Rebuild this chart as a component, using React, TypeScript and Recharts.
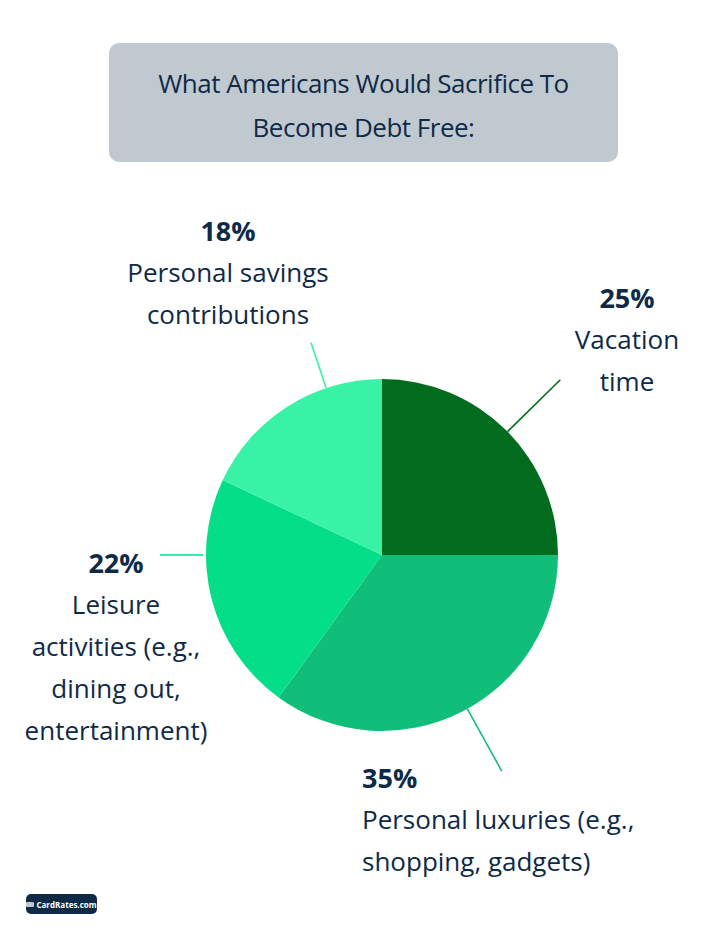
import React from "react";
import { PieChart, Pie, Cell } from "recharts";

const categories = ["Vacation time", "Personal luxuries (e.g., shopping, gadgets)", "Leisure activities (e.g., dining out, entertainment)", "Personal savings contributions"];
const values = [25, 35, 22, 18];
const percentLabels = ["25%", "35%", "22%", "18%"];
const labelLines = [
  ["Vacation", "time"],
  ["Personal luxuries (e.g.,", "shopping, gadgets)"],
  ["Leisure", "activities (e.g.,", "dining out,", "entertainment)"],
  ["Personal savings", "contributions"],
];
const colors = ["#016b1e", "#10be7a", "#04de88", "#38f2a6"];

const data = categories.map((name, i) => ({ name, value: values[i] }));

const NAVY = "#0f2a47";
const FONT = "'Open Sans', sans-serif";

// label layout config (angles clockwise from 12 o'clock, offsets from pie centre)
const labelCfg = [
  { angle: 45.5, r1: 176, r2: 250, tx: 245, ty: -258, anchor: "middle", lh: 42 },
  { angle: 151, r1: 176, r2: 247, tx: -20, ty: 222, anchor: "start", lh: 42 },
  { angle: 270, r1: 179, r2: 222, tx: -266, ty: 7, anchor: "middle", lh: 42 },
  { angle: -18.5, r1: 176, r2: 224, tx: -154, ty: -325, anchor: "middle", lh: 42 },
];

const renderLabel = (props: any) => {
  const { cx, cy, index } = props;
  const c = labelCfg[index];
  const a = (c.angle * Math.PI) / 180;
  const x1 = cx + c.r1 * Math.sin(a);
  const y1 = cy - c.r1 * Math.cos(a);
  const x2 = cx + c.r2 * Math.sin(a);
  const y2 = cy - c.r2 * Math.cos(a);
  const tx = cx + c.tx;
  const ty = cy + c.ty;
  return (
    <g key={`lbl-${index}`}>
      <line x1={x1} y1={y1} x2={x2} y2={y2} stroke={colors[index]} strokeWidth={1.6} />
      <text x={tx} y={ty} textAnchor={c.anchor} dominantBaseline="central" fill={NAVY} fontFamily={FONT} fontSize={27} fontWeight={700}>
        {percentLabels[index]}
      </text>
      {labelLines[index].map((ln, j) => (
        <text key={j} x={tx} y={ty + c.lh * (j + 1)} textAnchor={c.anchor} dominantBaseline="central" fill={NAVY} fontFamily={FONT} fontSize={26} fontWeight={400}>
          {ln}
        </text>
      ))}
    </g>
  );
};

export default function App() {
  return (
    <div style={{ position: "absolute", left: 0, top: 0, width: 723, height: 930, background: "#ffffff", fontFamily: FONT }}>
      <div
        style={{
          position: "absolute",
          left: 109,
          top: 43,
          width: 509,
          height: 119,
          background: "#c1c9d0",
          borderRadius: 10,
          display: "flex",
          flexDirection: "column",
          alignItems: "center",
          justifyContent: "center",
          color: NAVY,
          fontSize: 26,
          letterSpacing: -0.5,
          lineHeight: "44px",
          textAlign: "center",
          paddingTop: 4,
          boxSizing: "border-box",
        }}
      >
        <div>What Americans Would Sacrifice To</div>
        <div>Become Debt Free:</div>
      </div>
      <div style={{ position: "absolute", left: 0, top: 0 }}>
        <PieChart width={723} height={930} margin={{ top: 0, right: 0, bottom: 0, left: 0 }}>
          <Pie
            data={data}
            dataKey="value"
            nameKey="name"
            cx={382}
            cy={555}
            outerRadius={176}
            startAngle={90}
            endAngle={-270}
            stroke="none"
            label={renderLabel}
            labelLine={false}
            isAnimationActive={false}
          >
            {data.map((d, i) => (
              <Cell key={d.name} fill={colors[i]} />
            ))}
          </Pie>
        </PieChart>
      </div>
      <div
        style={{
          position: "absolute",
          left: 26,
          top: 894,
          width: 71,
          height: 20,
          background: NAVY,
          borderRadius: 5,
          color: "#ffffff",
          fontSize: 8,
          fontWeight: 700,
          display: "flex",
          alignItems: "center",
          justifyContent: "center",
          gap: 2,
        }}
      >
        <span style={{ display: "inline-block", width: 8, height: 5, background: "#c1c9d0", borderRadius: 1 }} />
        <span>CardRates.com</span>
      </div>
    </div>
  );
}
